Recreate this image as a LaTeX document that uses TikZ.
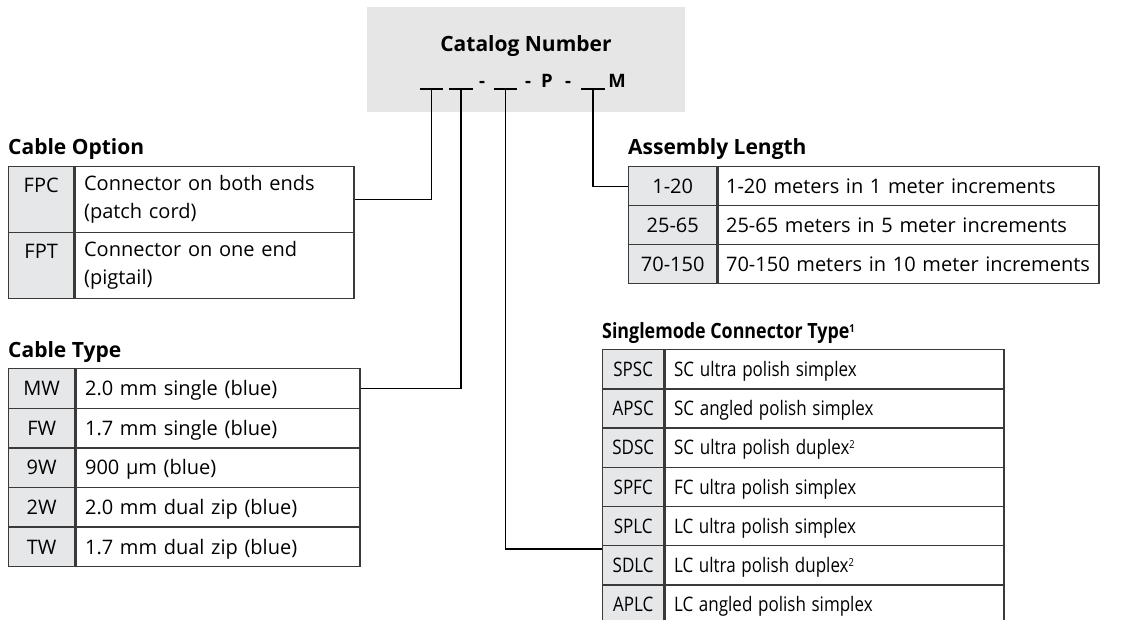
\documentclass[tikz,border=0pt]{standalone}
\usepackage{fontspec}
\usepackage{graphicx}
\setmainfont{Open Sans}
\usetikzlibrary{positioning}
\definecolor{catgray}{RGB}{230,230,230}
\definecolor{codegray}{RGB}{230,231,232}
\definecolor{rulegray}{RGB}{58,58,58}
\newcommand\fnmark[1]{\raisebox{6pt}{\fontsize{11}{11}\selectfont #1}}
\newcommand\narrow[1]{\scalebox{0.85}[1]{#1}}
\tikzset{
  body/.style={font=\fontsize{20}{28}\selectfont},
  ttl/.style={font=\bfseries\fontsize{21}{25}\selectfont, anchor=base west, inner sep=0pt},
  cell/.style={body, draw=rulegray, line width=1.4pt, inner sep=0pt,
               anchor=north west, minimum height=#1},
  code/.style={cell=#1, fill=codegray, align=center},
  desc/.style={cell=#1, fill=white, align=left, inner xsep=9pt},
  oneline/.style={text height=19pt, text depth=4.7pt},
  catbox/.style={fill=catgray, minimum width=318pt, minimum height=105pt, inner sep=0pt, anchor=north west},
  catch/.style={font=\bfseries\fontsize{18.5}{22}\selectfont, anchor=base, inner sep=0pt},
  blank/.style={minimum width=23pt, minimum height=0pt, inner sep=0pt},
  link/.style={black, line width=1.3pt},
}
\begin{document}
\begin{tikzpicture}[x=1pt, y=-1pt]
  \useasboundingbox (0,0) rectangle (1124,619);
  \clip (0,0) rectangle (1124,619);
  % catalog number box
  \node[catbox] (cat) at (367,7) {};
  \node[font=\bfseries\fontsize{21}{25}\selectfont, anchor=base, inner sep=0pt] (catname) at (526,51) {Catalog Number};
  \foreach \n/\x in {b1/431.5, b2/461, b3/505.5, b4/593}{
    \node[blank] (\n) at (\x,89) {};
    \draw[link] (\n.west) -- (\n.east);
  }
  \foreach \t/\x [count=\i] in {-/482, -/528, P/547, -/568, M/617}
    \node[catch] (sep\i) at (\x,87) {\t};
  % cable option
  \node[ttl] (optttl) at (8,154) {Cable Option};
  \foreach \c/\d [count=\i] in {FPC/{Connector on both ends\\(patch cord)}, FPT/{Connector on one end\\(pigtail)}}{
    \node[code=66pt, minimum width=65pt] (opt-\i-c) at (8,{166+(\i-1)*66}) {\c\\~};
    \node[desc=66pt, text width=261pt] (opt-\i-d) at (opt-\i-c.north east) {\d};
  }
  % cable type
  \node[ttl] (typettl) at (8,357) {Cable Type};
  \foreach \c/\d [count=\i] in {MW/2.0 mm single (blue), FW/1.7 mm single (blue), 9W/900 µm (blue),
      2W/2.0 mm dual zip (blue), TW/1.7 mm dual zip (blue)}{
    \node[code=39.6pt, oneline, minimum width=66pt] (type-\i-c) at (8,{368+(\i-1)*39.6}) {\c};
    \node[desc=39.6pt, oneline, text width=266pt] (type-\i-d) at (type-\i-c.north east) {\mbox{\d}};
  }
  % assembly length
  \node[ttl] (lenttl) at (628,154) {Assembly Length};
  \foreach \c/\d [count=\i] in {1-20/1-20 meters in 1 meter increments, 25-65/25-65 meters in 5 meter increments,
      70-150/70-150 meters in 10 meter increments}{
    \node[code=39pt, oneline, minimum width=88pt] (len-\i-c) at (628,{166+(\i-1)*39}) {\c};
    \node[desc=39pt, oneline, text width=365pt, inner xsep=8pt] (len-\i-d) at (len-\i-c.north east) {\mbox{\d}};
  }
  % singlemode connector type
  \node[ttl] (smttl) at (602,338) {\narrow{Singlemode Connector Type\fnmark{1}}};
  \foreach \c/\d [count=\i] in {SPSC/SC ultra polish simplex, APSC/SC angled polish simplex,
      SDSC/SC ultra polish duplex\fnmark{2}, SPFC/FC ultra polish simplex, SPLC/LC ultra polish simplex,
      SDLC/LC ultra polish duplex\fnmark{2}, APLC/LC angled polish simplex}{
    \node[code=39.2pt, oneline, minimum width=61pt] (sm-\i-c) at (602,{349+(\i-1)*39.2}) {\narrow{\c}};
    \node[desc=39.2pt, oneline, text width=321pt] (sm-\i-d) at (sm-\i-c.north east) {\narrow{\d}};
  }
  % connectors
  \draw[link] (opt-1-d.east) -| (b1);
  \draw[link] (type-1-d.east) -| (b2);
  \draw[link] (b3) |- ([yshift=-4pt]sm-6-c.north west);
  \draw[link] (b4) |- (len-1-c.west);
\end{tikzpicture}
\end{document}
